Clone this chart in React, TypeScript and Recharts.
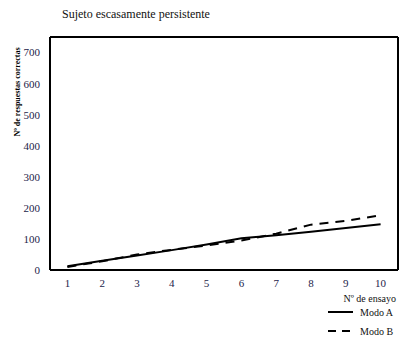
import React from "react";
import { ComposedChart, Line, XAxis, YAxis } from "recharts";

const ensayos = [1, 2, 3, 4, 5, 6, 7, 8, 9, 10];
const modoA = [12, 30, 47, 64, 82, 102, 112, 123, 135, 147];
const modoB = [10, 28, 50, 65, 79, 95, 117, 146, 158, 176];
const yTicks = [0, 100, 200, 300, 400, 500, 600, 700];

const data = ensayos.map((e, i) => ({ x: e, a: modoA[i], b: modoB[i] }));

const font = "'Liberation Serif', 'DejaVu Serif', serif";
const tickColor = "#23234a";

export default function App() {
  return (
    <div style={{ position: "absolute", left: 0, top: 0, width: 403, height: 343, background: "#fff" }}>
      <ComposedChart width={403} height={343} data={data} margin={{ top: 36, right: 4, bottom: 53, left: 20 }}>
        <text x={62} y={18} fontSize={12} fontFamily={font} fill="#111">Sujeto escasamente persistente</text>
        <text x={20} y={92} fontSize={8} fontWeight="bold" fontFamily={font} fill="#000" textAnchor="middle" transform="rotate(-90 20 92)">Nº de respuestas correctas</text>
        <text x={396} y={302} fontSize={10} fontFamily={font} fill="#111" textAnchor="end">Nº de ensayo</text>
        <XAxis
          dataKey="x"
          type="number"
          domain={[0.5, 10.5]}
          ticks={ensayos}
          tickLine={false}
          axisLine={{ stroke: "#000", strokeWidth: 2 }}
          tick={{ fontSize: 11, fontFamily: font, fill: tickColor }}
          tickMargin={3}
          height={20}
        />
        <XAxis xAxisId="top" orientation="top" dataKey="x" type="number" domain={[0.5, 10.5]} tick={false} tickLine={false} axisLine={{ stroke: "#000", strokeWidth: 2 }} height={1} />
        <YAxis
          type="number"
          domain={[0, 750]}
          ticks={yTicks}
          tickLine={false}
          axisLine={{ stroke: "#000", strokeWidth: 2 }}
          tick={{ fontSize: 11, fontFamily: font, fill: tickColor }}
          tickMargin={4}
          width={30}
        />
        <YAxis yAxisId="right" orientation="right" domain={[0, 750]} tick={false} tickLine={false} axisLine={{ stroke: "#000", strokeWidth: 2 }} width={1} />
        <Line dataKey="a" stroke="#000" strokeWidth={2} dot={false} isAnimationActive={false} />
        <Line dataKey="b" stroke="#000" strokeWidth={2} strokeDasharray="9 7" dot={false} isAnimationActive={false} />
      </ComposedChart>
      <svg width={100} height={40} style={{ position: "absolute", left: 320, top: 304 }}>
        <line x1={8} y1={8} x2={33} y2={8} stroke="#000" strokeWidth={2} />
        <text x={40} y={12} fontSize={10} fontFamily={font} fill="#111">Modo A</text>
        <line x1={8} y1={27} x2={33} y2={27} stroke="#000" strokeWidth={2} strokeDasharray="8 6" />
        <text x={40} y={31} fontSize={10} fontFamily={font} fill="#111">Modo B</text>
      </svg>
    </div>
  );
}
